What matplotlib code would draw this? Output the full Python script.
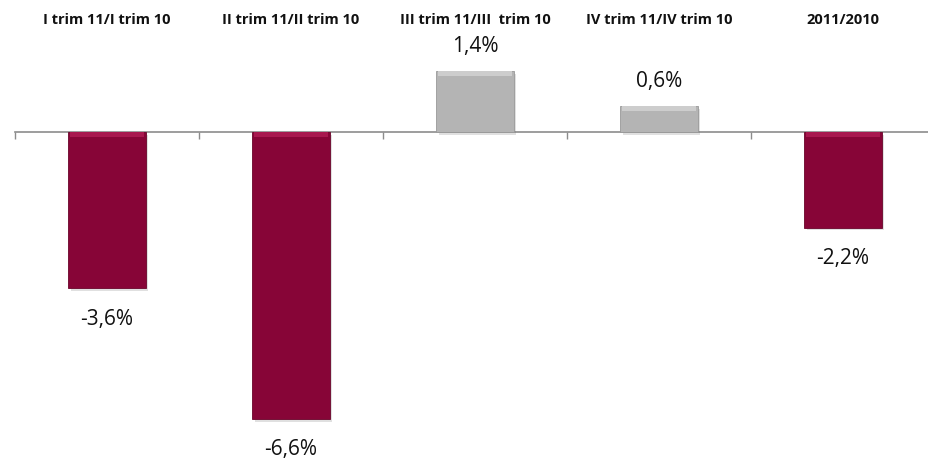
import numpy as np
import matplotlib.pyplot as plt
import matplotlib.patheffects as pe

categories = ["I trim 11/I trim 10", "II trim 11/II trim 10", "III trim 11/III  trim 10",
              "IV trim 11/IV trim 10", "2011/2010"]
values = [-3.6, -6.6, 1.4, 0.6, -2.2]
labels = ["-3,6%", "-6,6%", "1,4%", "0,6%", "-2,2%"]

RED = "#870537"
GREY = "#b4b4b4"

fig = plt.figure(figsize=(9.29, 4.59), dpi=100)
ax = fig.add_axes([15 / 929, 0, 920 / 929, 1])

x = np.arange(len(values))
colors = [RED if v < 0 else GREY for v in values]
edges = ["#6a0329" if v < 0 else "#999999" for v in values]

bars = ax.bar(x, values, width=0.42, color=colors, edgecolor=edges, linewidth=0.6, zorder=3)
for b in bars:
    b.set_path_effects([pe.SimplePatchShadow(offset=(2, -2), alpha=0.2, shadow_rgbFace="#666666"),
                        pe.Normal()])

# lighter bevel strip along the top edge of each bar
for xi, v in zip(x, values):
    hi = "#a8184f" if v < 0 else "#cdcdcd"
    top = 0 if v < 0 else v
    ax.bar(xi, -0.12, bottom=top, width=0.40, color=hi, linewidth=0, zorder=4)

ax.set_xlim(-0.5, len(values) - 0.5)
ax.set_ylim(-7.52, 3.03)

for s in ["top", "right", "left"]:
    ax.spines[s].set_visible(False)
ax.spines["bottom"].set_position(("data", 0))
ax.spines["bottom"].set_color("#8c8c8c")
ax.spines["bottom"].set_linewidth(1.2)
ax.spines["bottom"].set_zorder(2)
ax.set_xticks(np.arange(len(values) + 1) - 0.5)
ax.set_xticklabels([])
ax.tick_params(axis="x", direction="out", length=5, color="#8c8c8c", width=1)
ax.set_yticks([])

for xi, cat in zip(x, categories):
    ax.text(xi, 1 - 20 / 459, cat, transform=ax.get_xaxis_transform(), ha="center", va="center",
            fontsize=10.5, fontweight="bold", family="Open Sans", color="#111111")

for xi, v, lab in zip(x, values, labels):
    off = 24 if v > 0 else -31
    ax.annotate(lab, (xi, v), xytext=(0, off), textcoords="offset pixels",
                ha="center", va="center", fontsize=15, family="Open Sans", color="#111111")

fig.savefig("out.png", dpi=100)
